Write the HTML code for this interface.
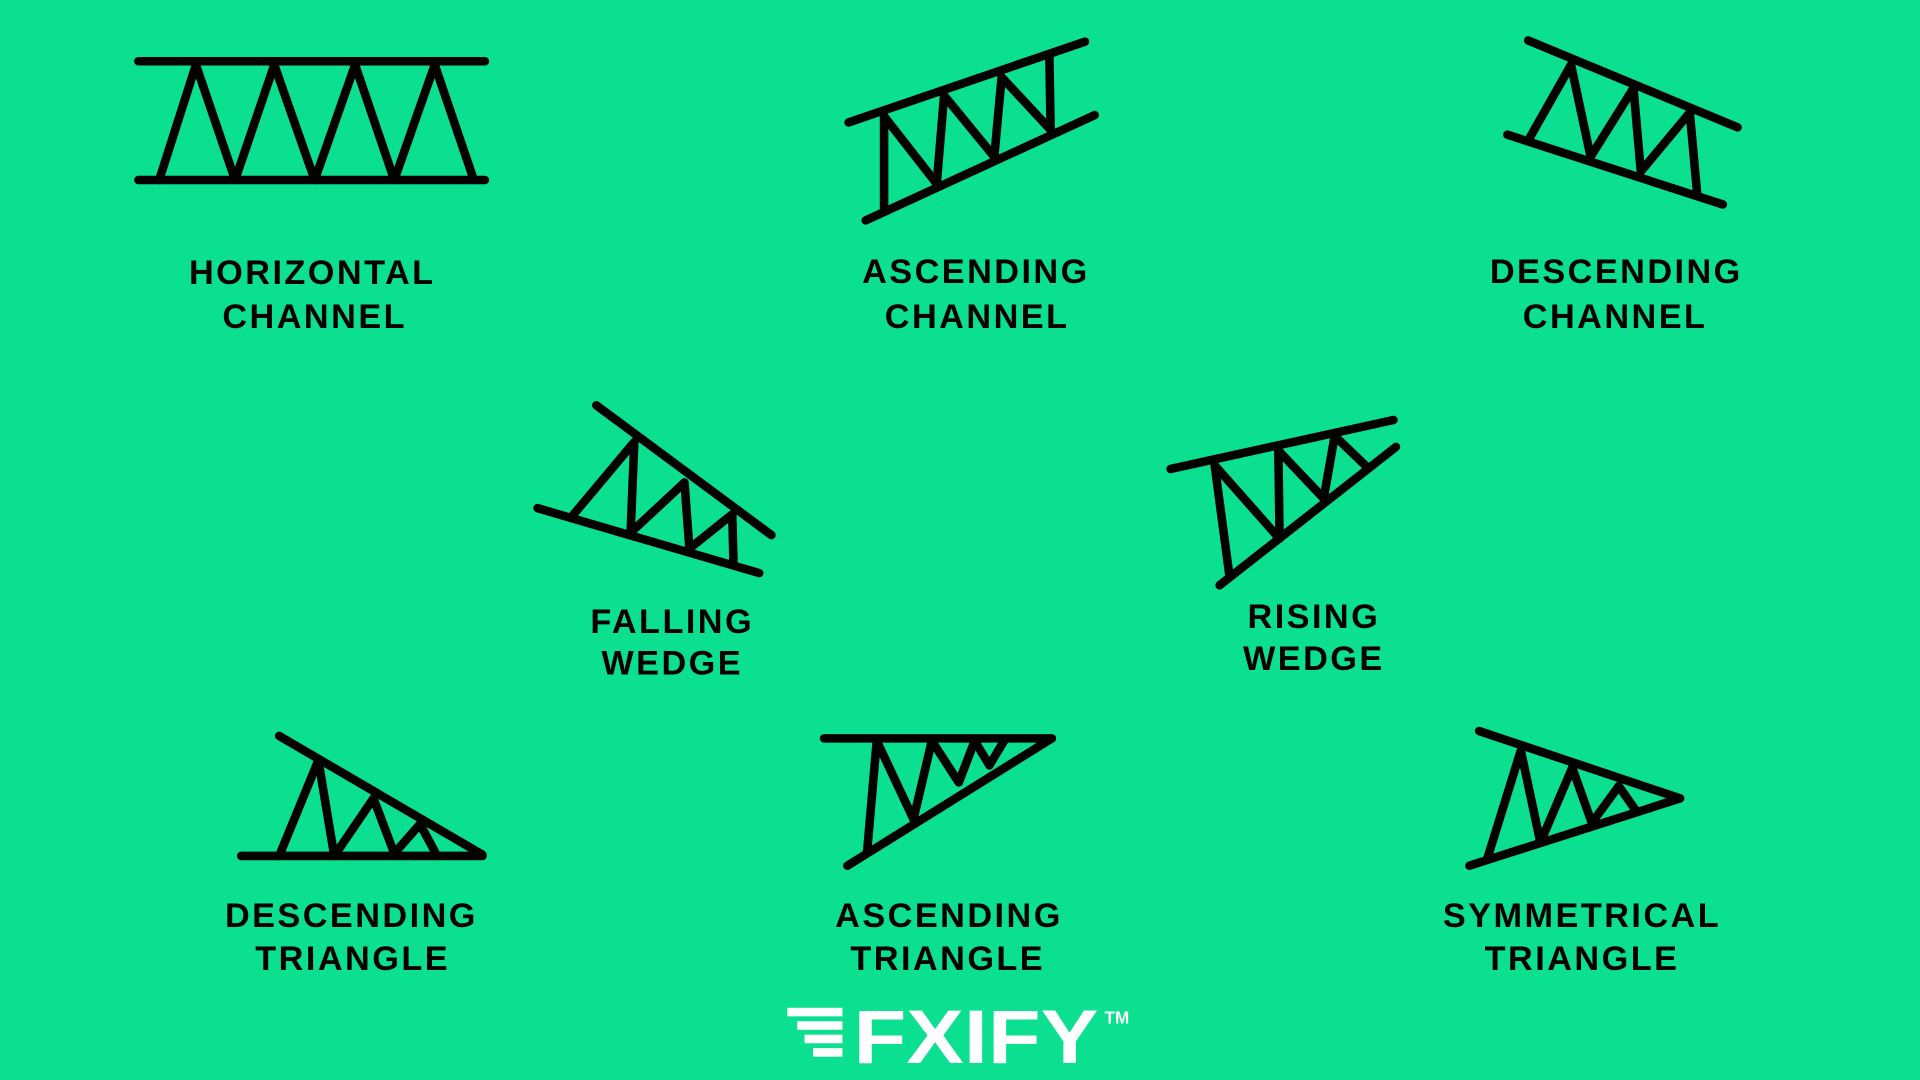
<!DOCTYPE html>
<html><head><meta charset="utf-8"><style>
html,body{margin:0;padding:0;background:#0ae08f;}
svg{display:block}
text{font-family:"Liberation Sans",sans-serif;font-weight:bold;}
</style></head><body>
<svg width="1920" height="1080" viewBox="0 0 1568 882" xmlns="http://www.w3.org/2000/svg">
<rect width="1568" height="882" fill="#0ae08f"/>
<g stroke="#000" stroke-width="7" stroke-linecap="round" stroke-linejoin="round" fill="none">
<line x1="113" y1="50" x2="396" y2="50"/><line x1="113" y1="147" x2="396" y2="147"/>
<polyline points="130,147 160,53 192,147 224,53 257,147 290,53 322,147 355,53 387,147"/>
<line x1="693" y1="100" x2="886" y2="34"/><line x1="707" y1="180" x2="894" y2="94"/>
<polyline points="722,170 722,95 765,150 771,78 812,128 818,63 858,106 857,47"/>
<line x1="1248" y1="33" x2="1419" y2="104"/><line x1="1231" y1="110" x2="1407" y2="167"/>
<polyline points="1249,113 1283,53 1299,128 1334,72 1340,140 1380,92 1386,158"/>
<line x1="487" y1="331" x2="630" y2="437"/><line x1="439" y1="415" x2="620" y2="468"/>
<polyline points="466,423 518,361 515,435 559,394 563,448 598,420 599,458"/>
<line x1="956" y1="383" x2="1138" y2="343"/><line x1="996" y1="478" x2="1140" y2="365"/>
<polyline points="1004,470 992,380 1045,440 1044,368 1081,407 1090,356 1117,382"/>
<line x1="228" y1="601" x2="394" y2="698"/><line x1="197" y1="699" x2="394" y2="699"/>
<polyline points="228,699 260,621 273,699 305,652 322,697 343,673 357,699"/>
<line x1="673" y1="603" x2="859" y2="603"/><line x1="692" y1="707" x2="859" y2="603"/>
<polyline points="708,697 716,605 746,669 761,605 783,639 796,605 808,625 820,605"/>
<line x1="1208" y1="597" x2="1372" y2="652"/><line x1="1200" y1="707" x2="1372" y2="652"/>
<polyline points="1215,700 1242,613 1258,688 1284,627 1300,672 1322,642 1336,662"/>
</g>
<g fill="#000" font-size="28" text-anchor="middle" letter-spacing="2">
<text x="255" y="232">HORIZONTAL</text><text x="257" y="268">CHANNEL</text>
<text x="797" y="231">ASCENDING</text><text x="798" y="268">CHANNEL</text>
<text x="1320" y="231">DESCENDING</text><text x="1319" y="268">CHANNEL</text>
<text x="549" y="517">FALLING</text><text x="549" y="551">WEDGE</text>
<text x="1073" y="513">RISING</text><text x="1073" y="547">WEDGE</text>
<text x="287" y="757">DESCENDING</text><text x="288" y="792">TRIANGLE</text>
<text x="775" y="757">ASCENDING</text><text x="774" y="792">TRIANGLE</text>
<text x="1292" y="757">SYMMETRICAL</text><text x="1292" y="792">TRIANGLE</text>
</g>
<g fill="#fff">
<rect x="643" y="823" width="45" height="7"/>
<rect x="651" y="834" width="37" height="7"/>
<rect x="657" y="845" width="31" height="7"/>
<rect x="664" y="856" width="24" height="7"/>
<text x="697" y="868" font-size="62" textLength="200" lengthAdjust="spacingAndGlyphs">FXIFY</text>
<text x="902" y="836" font-size="14" font-weight="normal">TM</text>
</g>
</svg>
</body></html>
